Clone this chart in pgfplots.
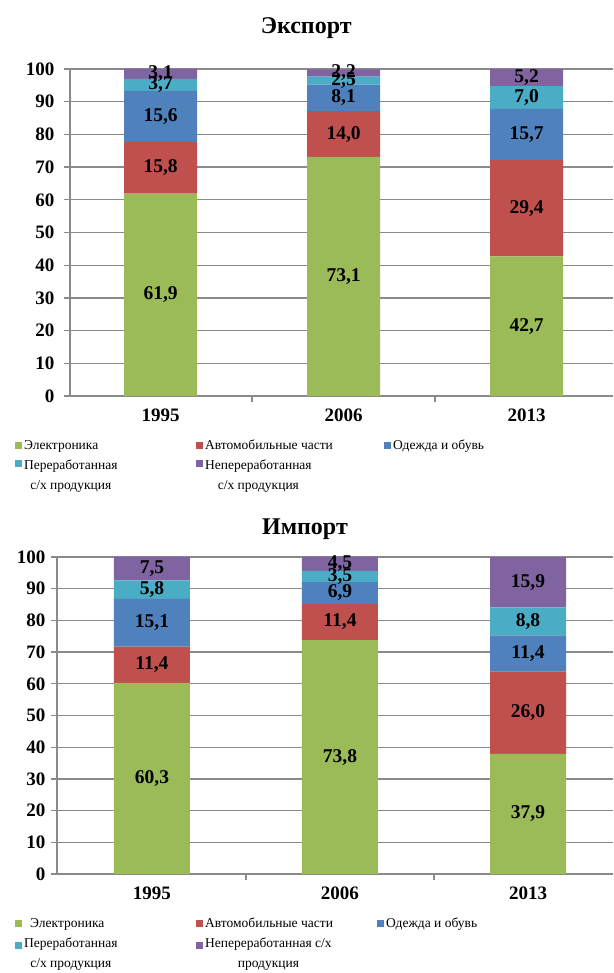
\documentclass[border=0pt]{standalone}
\usepackage{pgfplots}
\pgfplotsset{compat=1.18}
\usepackage{pgfplotstable}
\usepackage{fontspec}
\setmainfont{Liberation Serif}

\definecolor{cEl}{HTML}{9BBB59}
\definecolor{cAu}{HTML}{C0504D}
\definecolor{cCl}{HTML}{4F81BD}
\definecolor{cPr}{HTML}{4BACC6}
\definecolor{cRa}{HTML}{8064A2}
\definecolor{gridgray}{HTML}{8A8A8A}

\pgfplotstableread{
x el au cl pr ra
0 61.9 15.8 15.6 3.7 3.1
1 73.1 14.0 8.1 2.5 2.2
2 42.7 29.4 15.7 7.0 5.2
}\exporttab
\pgfplotstableread{
x el au cl pr ra
0 60.3 11.4 15.1 5.8 7.5
1 73.8 11.4 6.9 3.5 4.5
2 37.9 26.0 11.4 8.8 15.9
}\importtab

\pgfplotsset{
  chartbase/.style={scale only axis, ymin=0, ymax=100, clip=false},
  barsaxis/.style={
    chartbase,
    ybar stacked,
    axis x line*=bottom, axis y line*=left,
    axis line style={draw=gridgray, line width=1.3pt, -},
    ymajorgrids, grid style={draw=gridgray, line width=1.3pt},
    ytick={0,10,...,100},
    xtick={0,1,2}, xticklabels={1995,2006,2013},
    tick align=outside, major tick length=6pt,
    xtick style={draw=none},
    ytick style={draw=gridgray, line width=1.3pt},
    extra x ticks={0.5,1.5}, extra x tick labels={},
    extra x tick style={xtick style={draw=gridgray, line width=1.3pt}},
    /pgf/number format/assume math mode=true,
    ticklabel style={font=\bfseries\fontsize{19}{19}\selectfont},
    xticklabel style={yshift=-3pt},
    legend columns=3,
    legend cell align=left,
    legend image code/.code={\path[#1,draw=none] (0pt,-3.5pt) rectangle (7pt,3.5pt);},
    legend style={draw=none, fill=none, anchor=north west,
      font=\fontsize{13.5}{20}\selectfont},
    title style={font=\bfseries\fontsize{24}{24}\selectfont, anchor=center},
  },
  labelaxis/.style={
    chartbase, hide axis,
    point meta=explicit,
    nodes near coords={\pgfmathprintnumber[fixed,fixed zerofill,precision=1,use comma,assume math mode=true]{\pgfplotspointmeta}},
    every node near coord/.append style={anchor=center, inner sep=0pt,
      font=\bfseries\fontsize{19.5}{19.5}\selectfont},
  },
}

\begin{document}
\begin{tikzpicture}[x=1pt,y=1pt]
\useasboundingbox (0,0) rectangle (613,-973);

% ---------------- Export ----------------
\begin{axis}[barsaxis, at={(70pt,-396pt)}, anchor=south west,
  width=543pt, height=327pt, xmin=-0.495, xmax=2.472, bar width=73pt,
  yticklabel style={xshift=-6pt},
  title={Экспорт}, title style={at={(0.435,1)}, yshift=35pt},
  legend style={at={(-0.107,-0.122)}}]
\addplot[fill=cEl, draw=none] table[x=x, y=el] {\exporttab};
\addlegendentry{\makebox[170pt][l]{Электроника}}
\addplot[fill=cAu, draw=none] table[x=x, y=au] {\exporttab};
\addlegendentry{\makebox[177pt][l]{Автомобильные части}}
\addplot[fill=cCl, draw=none] table[x=x, y=cl] {\exporttab};
\addlegendentry{Одежда и обувь}
\addplot[fill=cPr, draw=none] table[x=x, y=pr] {\exporttab};
\addlegendentry{\begin{tabular}[t]{@{}c@{}}Переработанная\\с/х продукция\end{tabular}}
\addplot[fill=cRa, draw=none] table[x=x, y=ra] {\exporttab};
\addlegendentry{\begin{tabular}[t]{@{}c@{}}Непереработанная\\с/х продукция\end{tabular}}
\end{axis}
\begin{axis}[labelaxis, at={(70pt,-396pt)}, anchor=south west,
  width=543pt, height=327pt, xmin=-0.495, xmax=2.472]
\addplot[draw=none] table[x=x, y expr={\thisrow{el}/2}, meta=el] {\exporttab};
\addplot[draw=none] table[x=x, y expr={\thisrow{el}+\thisrow{au}/2}, meta=au] {\exporttab};
\addplot[draw=none] table[x=x, y expr={\thisrow{el}+\thisrow{au}+\thisrow{cl}/2}, meta=cl] {\exporttab};
\addplot[draw=none] table[x=x, y expr={\thisrow{el}+\thisrow{au}+\thisrow{cl}+\thisrow{pr}/2}, meta=pr] {\exporttab};
\addplot[draw=none] table[x=x, y expr={\thisrow{el}+\thisrow{au}+\thisrow{cl}+\thisrow{pr}+\thisrow{ra}/2}, meta=ra] {\exporttab};
\end{axis}

% ---------------- Import ----------------
\begin{axis}[barsaxis, at={(57pt,-874pt)}, anchor=south west,
  width=556pt, height=317pt, xmin=-0.505, xmax=2.452, bar width=76pt,
  yticklabel style={xshift=-2pt},
  title={Импорт}, title style={at={(0.446,1)}, yshift=22pt},
  legend style={at={(-0.081,-0.125)}}]
\addplot[fill=cEl, draw=none] table[x=x, y=el] {\importtab};
\addlegendentry{\makebox[170pt][l]{\hspace{6pt}Электроника}}
\addplot[fill=cAu, draw=none] table[x=x, y=au] {\importtab};
\addlegendentry{\makebox[170pt][l]{Автомобильные части}}
\addplot[fill=cCl, draw=none] table[x=x, y=cl] {\importtab};
\addlegendentry{Одежда и обувь}
\addplot[fill=cPr, draw=none] table[x=x, y=pr] {\importtab};
\addlegendentry{\begin{tabular}{@{}c@{}}Переработанная\\с/х продукция\end{tabular}}
\addplot[fill=cRa, draw=none] table[x=x, y=ra] {\importtab};
\addlegendentry{\begin{tabular}{@{}c@{}}Непереработанная с/х\\продукция\end{tabular}}
\end{axis}
\begin{axis}[labelaxis, at={(57pt,-874pt)}, anchor=south west,
  width=556pt, height=317pt, xmin=-0.505, xmax=2.452]
\addplot[draw=none] table[x=x, y expr={\thisrow{el}/2}, meta=el] {\importtab};
\addplot[draw=none] table[x=x, y expr={\thisrow{el}+\thisrow{au}/2}, meta=au] {\importtab};
\addplot[draw=none] table[x=x, y expr={\thisrow{el}+\thisrow{au}+\thisrow{cl}/2}, meta=cl] {\importtab};
\addplot[draw=none] table[x=x, y expr={\thisrow{el}+\thisrow{au}+\thisrow{cl}+\thisrow{pr}/2}, meta=pr] {\importtab};
\addplot[draw=none] table[x=x, y expr={\thisrow{el}+\thisrow{au}+\thisrow{cl}+\thisrow{pr}+\thisrow{ra}/2}, meta=ra] {\importtab};
\end{axis}
\end{tikzpicture}
\end{document}
